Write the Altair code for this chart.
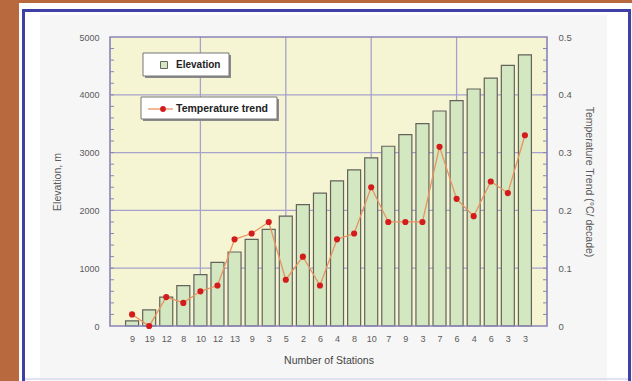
import altair as alt
import pandas as pd

# Number of stations in each elevation band (shown as x tick labels)
stations = [9, 19, 12, 8, 10, 12, 13, 9, 3, 5, 2, 6, 4, 8, 10, 7, 9, 3, 7, 6, 4, 6, 3, 3]
# Mean elevation of each band, m
elevation = [90, 280, 500, 700, 890, 1100, 1280, 1500, 1670, 1900, 2100, 2300,
             2510, 2700, 2910, 3110, 3310, 3500, 3720, 3900, 4100, 4290, 4510, 4690]
# Temperature trend of each band, degC per decade
trend = [0.02, 0.0, 0.05, 0.04, 0.06, 0.07, 0.15, 0.16, 0.18, 0.08, 0.12, 0.07,
         0.15, 0.16, 0.24, 0.18, 0.18, 0.18, 0.31, 0.22, 0.19, 0.25, 0.23, 0.33]

elev_ticks = [0, 1000, 2000, 3000, 4000, 5000]
trend_ticks = [0, 0.1, 0.2, 0.3, 0.4, 0.5]
x_grid = [5, 10, 15, 20]
elev_minor = [v for v in range(200, 5000, 200)]
trend_minor = [round(v * 0.02, 2) for v in range(1, 25)]

W, H = 437, 289
FONT = "Liberation Sans"
GRID = "#A7A2CC"
EDGE = "#8A84B8"
TXT = "#5a5a5a"

df = pd.DataFrame({
    "pos": list(range(1, len(stations) + 1)),
    "stations": stations,
    "elevation": elevation,
    "trend": trend,
})

x_scale = alt.Scale(domain=[0, len(stations) + 1], nice=False, zero=False)
yl_scale = alt.Scale(domain=[0, 5000], nice=False)
yr_scale = alt.Scale(domain=[0, 0.5], nice=False)

label_js = "[" + ",".join("'%d'" % s for s in stations) + "][datum.value - 1]"

x_axis = alt.Axis(
    values=list(range(1, len(stations) + 1)), labelExpr=label_js,
    title="Number of Stations", grid=False, ticks=False, domain=False,
    labelPadding=8, titlePadding=12, labelOverlap=False, labelFlush=False,
    labelFont=FONT, labelFontSize=9, labelColor=TXT,
    titleFont=FONT, titleFontSize=10.5, titleFontWeight="normal", titleColor="#444",
    orient="bottom",
)
yl_axis = alt.Axis(
    values=elev_ticks, format="d", title="Elevation, m", grid=False, ticks=False,
    domain=False, labelPadding=11, titlePadding=16, labelFont=FONT, labelFontSize=9,
    labelColor=TXT, titleFont=FONT, titleFontSize=10.5, titleFontWeight="normal",
    titleColor=TXT, orient="left",
)
yr_axis = alt.Axis(
    values=trend_ticks, labelExpr="datum.value == 0 ? '0' : format(datum.value, '.1f')",
    title="Temperature Trend (°C/ decade)", grid=False, ticks=False, domain=False,
    labelPadding=11, titlePadding=12, labelFont=FONT, labelFontSize=9.5, labelColor=TXT,
    titleFont=FONT, titleFontSize=10.5, titleFontWeight="normal", titleColor=TXT,
    orient="right",
)

X = dict(scale=x_scale, axis=x_axis)
YL = dict(scale=yl_scale, axis=yl_axis)
YR = dict(scale=yr_scale, axis=yr_axis)

one = alt.Data(values=[{"k": 0}])


def box(x, x2, y, y2, **kw):
    return alt.Chart(one).mark_rect(**kw).encode(
        x=alt.value(x), x2=alt.value(x2), y=alt.value(y), y2=alt.value(y2))


def rule(x, x2, y, y2, **kw):
    return alt.Chart(one).mark_rule(**kw).encode(
        x=alt.value(x), x2=alt.value(x2), y=alt.value(y), y2=alt.value(y2))


# page frame around the light grey panel (pixel offsets from the plot origin)
deco = alt.layer(
    box(-86, -70, -26, 345, fill="white"),
    box(497, 520, -26, 345, fill="white"),
    box(-86, 520, -26, -22, fill="white"),
    box(-110, -91, -37, 344, fill="#B86A3E"),
    box(-91, 522, -37, -34, fill="#B86A3E"),
    box(-91, -87, -34, 344, fill="white"),
    box(-91, 522, -34, -28, fill="white"),
    box(-86.5, 519.5, -26.5, 380, fill=None, stroke="#3F3FA6", strokeWidth=3),
    rule(-85, 518, 342, 342, color="#D9D9EE", strokeWidth=1.5),
    box(0, W, 0, H, fill="#F5F5D3"),
)

grid_h = alt.Chart(pd.DataFrame({"elevation": elev_ticks[1:-1]})).mark_rule(
    color=GRID, strokeWidth=1.3).encode(y=alt.Y("elevation:Q", **YL))
grid_v = alt.Chart(pd.DataFrame({"pos": x_grid})).mark_rule(
    color=GRID, strokeWidth=1.3).encode(x=alt.X("pos:Q", **X))
bars = alt.Chart(df).mark_bar(
    size=13, fill="#D3E7C0", stroke="#63635C", strokeWidth=1.2).encode(
    x=alt.X("pos:Q", **X),
    y=alt.Y("elevation:Q", **YL),
)
minor_l = alt.Chart(pd.DataFrame({"elevation": elev_minor})).mark_rule(
    color=EDGE, strokeWidth=1).encode(
    y=alt.Y("elevation:Q", **YL), x=alt.value(0), x2=alt.value(4))

left = alt.layer(grid_h, grid_v, bars, minor_l)

border = box(0, W, 0, H, fill=None, stroke=EDGE, strokeWidth=1.6)

line = alt.Chart(df).mark_line(color="#E9935F", strokeWidth=1.3).encode(
    x=alt.X("pos:Q", **X),
    y=alt.Y("trend:Q", **YR),
)
pts = alt.Chart(df).mark_circle(size=38, color="#D41C1C", opacity=1).encode(
    x=alt.X("pos:Q", **X),
    y=alt.Y("trend:Q", **YR),
)
minor_r = alt.Chart(pd.DataFrame({"trend": trend_minor})).mark_rule(
    color=EDGE, strokeWidth=1).encode(
    y=alt.Y("trend:Q", **YR), x=alt.value(W - 4), x2=alt.value(W))

right = alt.layer(minor_r, line, pts)

# hand-drawn legend boxes
legend = alt.layer(
    box(35, 121, 18, 41, fill="#8a8a8a"),
    box(33, 119, 16, 39, fill="white", stroke="#777", strokeWidth=1),
    box(50.5, 57.5, 24.5, 31.5, fill="#D3E7C0", stroke="#666", strokeWidth=1),
    alt.Chart(one).mark_text(
        text="Elevation", align="left", baseline="middle", font=FONT,
        fontSize=10, fontWeight="bold", color="#222").encode(
        x=alt.value(66), y=alt.value(28)),
    box(33, 169, 62, 84, fill="#8a8a8a"),
    box(31, 167, 60, 82, fill="white", stroke="#777", strokeWidth=1),
    rule(38, 63, 72, 72, color="#E9935F", strokeWidth=1.3),
    alt.Chart(one).mark_circle(size=34, color="#D41C1C", opacity=1).encode(
        x=alt.value(53), y=alt.value(72)),
    alt.Chart(one).mark_text(
        text="Temperature trend", align="left", baseline="middle", font=FONT,
        fontSize=10.5, fontWeight="bold", color="#222").encode(
        x=alt.value(66), y=alt.value(72)),
)

chart = alt.layer(deco, left, border, right, legend).resolve_scale(
    y="independent"
).properties(
    width=W, height=H,
    padding={"left": 110, "top": 37, "right": 632 - 110 - W, "bottom": 381 - 37 - H},
    autosize=alt.AutoSizeParams(type="none"),
    background="#F6F6F6",
).configure_view(stroke=None)

chart.save("out.html", embed_options={"renderer": "svg", "actions": False})
